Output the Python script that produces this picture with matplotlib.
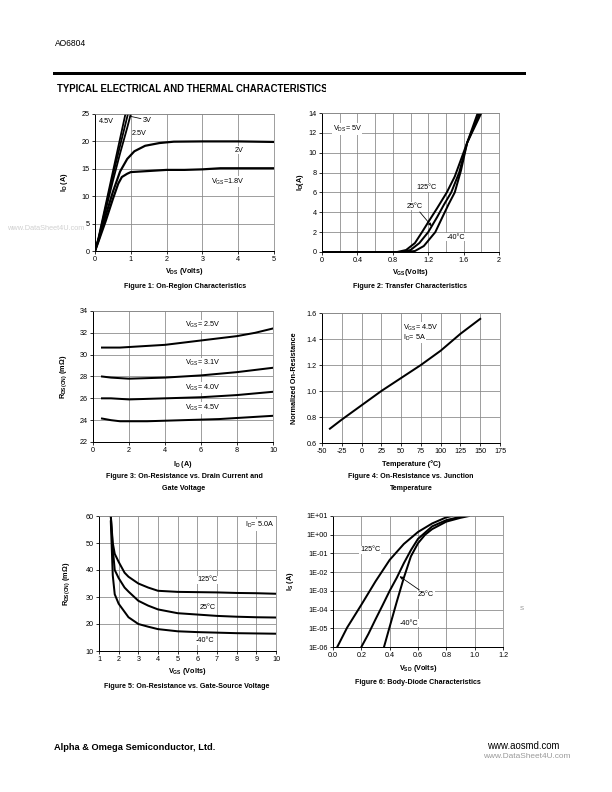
import numpy as np
import matplotlib.pyplot as plt
from matplotlib.ticker import MultipleLocator, FixedLocator, FixedFormatter
from matplotlib.transforms import Bbox

plt.rcParams['font.family'] = ['Liberation Sans', 'DejaVu Sans']
plt.rcParams['mathtext.fontset'] = 'custom'
plt.rcParams['mathtext.rm'] = 'Liberation Sans'
plt.rcParams['mathtext.it'] = 'Liberation Sans:italic'
plt.rcParams['mathtext.bf'] = 'Liberation Sans:bold'
plt.rcParams['mathtext.default'] = 'regular'
plt.rcParams['axes.unicode_minus'] = False

# Figure 1: on-region characteristics
vds_45 = [0, 0.1, 0.3, 0.5, 0.7, 0.85]
id_45 = [0, 2.5, 8.5, 14.5, 20.5, 25]
vds_3 = [0, 0.1, 0.3, 0.5, 0.7, 0.92]
id_3 = [0, 2.3, 8.0, 13.8, 19.2, 25]
vds_25 = [0, 0.1, 0.3, 0.5, 0.7, 0.9, 1.0]
id_25 = [0, 2.2, 7.5, 12.8, 17.8, 22.5, 25]
vds_2 = [0, 0.1, 0.3, 0.5, 0.7, 0.9, 1.1, 1.4, 1.8, 2.2, 3, 4, 5]
id_2 = [0, 2.0, 6.5, 10.8, 14.5, 16.8, 18.2, 19.2, 19.7, 19.95, 20, 20, 19.9]
vds_18 = [0, 0.1, 0.3, 0.5, 0.65, 0.75, 0.9, 1.0, 1.5, 2, 2.5, 3, 3.5, 4, 5]
id_18 = [0, 1.8, 5.5, 9.5, 12.3, 13.5, 14.1, 14.4, 14.6, 14.8, 14.8, 14.9, 15.1, 15.1, 15.1]

# Figure 2: transfer characteristics
vgs_125 = [0, 0.85, 0.95, 1.05, 1.13, 1.2, 1.3, 1.41, 1.5, 1.64, 1.8]
id_125 = [0, 0, 0.2, 0.9, 2.0, 3.0, 4.4, 6.0, 7.6, 11.0, 14]
vgs_25 = [0, 0.9, 1.0, 1.1, 1.2, 1.3, 1.38, 1.46, 1.55, 1.64, 1.78]
id_25c = [0, 0, 0.2, 0.9, 2.0, 3.5, 4.8, 6.0, 8.0, 11.0, 14]
vgs_m40 = [0, 0.95, 1.05, 1.15, 1.28, 1.36, 1.43, 1.5, 1.57, 1.64, 1.76]
id_m40 = [0, 0, 0.1, 0.6, 2.0, 3.5, 4.8, 6.0, 8.2, 11.0, 14]

# Figure 3: Rds(on) vs drain current
id_f3 = [0.5, 1, 1.5, 2, 3, 4, 5, 6, 7, 8, 9, 10]
r_25v = [30.65, 30.65, 30.65, 30.7, 30.8, 30.9, 31.1, 31.3, 31.5, 31.7, 32.0, 32.4]
r_31v = [28.0, 27.9, 27.85, 27.8, 27.85, 27.9, 28.0, 28.1, 28.25, 28.4, 28.6, 28.8]
r_40v = [26.0, 26.0, 25.95, 25.9, 25.95, 26.0, 26.05, 26.1, 26.2, 26.3, 26.45, 26.6]
r_45v = [24.15, 24.0, 23.9, 23.9, 23.9, 23.95, 24.0, 24.05, 24.1, 24.2, 24.3, 24.4]

# Figure 4: normalized on-resistance vs temperature
temp_f4 = [-40, -25, 0, 25, 50, 75, 100, 125, 150]
rnorm_f4 = [0.71, 0.78, 0.89, 1.0, 1.1, 1.2, 1.31, 1.44, 1.555]

# Figure 5: Rds(on) vs gate-source voltage
vgs_f5 = [1.6, 1.7, 1.8, 2.0, 2.3, 2.5, 3, 3.5, 4, 5, 6, 7, 8, 9, 10]
r5_125 = [60, 50, 46, 43, 39, 37.5, 35, 33.5, 32.3, 31.9, 31.8, 31.7, 31.5, 31.4, 31.2]
r5_25 = [60, 48, 40, 37, 33.5, 32, 28.6, 26.8, 25.4, 24, 23.5, 23, 22.7, 22.5, 22.4]
r5_m40 = [58, 38, 31, 27.5, 24.5, 22.5, 20, 19, 18.1, 17.3, 17, 16.8, 16.6, 16.5, 16.4]

# Figure 6: body-diode characteristics
vsd_125 = [0.03, 0.1, 0.2, 0.3, 0.4, 0.5, 0.6, 0.7, 0.8, 0.84]
is_125 = [1e-6, 1.1e-5, 1.8e-4, 3.2e-3, 4.5e-2, 0.32, 1.4, 4.0, 8.5, 10]
vsd_25 = [0.2, 0.25, 0.3, 0.35, 0.4, 0.45, 0.5, 0.55, 0.6, 0.7, 0.8, 0.92]
is_25 = [1e-6, 5e-6, 3e-5, 1.7e-4, 1e-3, 5e-3, 3e-2, 0.15, 0.6, 2.8, 6, 10]
vsd_m40 = [0.36, 0.4, 0.45, 0.5, 0.55, 0.6, 0.65, 0.7, 0.8, 0.9, 0.96]
is_m40 = [1e-6, 1.2e-5, 2.6e-4, 5e-3, 7e-2, 0.35, 1.0, 2.0, 5, 8, 10]

GRID = '#888888'
WHITE = dict(fc='white', ec='none', pad=0.6)
FS = 7.2   # text inside the plots, tick labels, axis labels
CAP = 7.1  # figure captions

fig = plt.figure(figsize=(8.5, 11), dpi=72)


def px_axes(l, t, r, b):
    return fig.add_axes([l / 612, 1 - b / 792, (r - l) / 612, (b - t) / 792])


def style(ax):
    ax.grid(True, which='both', color=GRID, lw=0.8)
    ax.set_axisbelow(True)
    for s in ['top', 'right']:
        ax.spines[s].set_color(GRID)
        ax.spines[s].set_linewidth(0.8)
    for s in ['left', 'bottom']:
        ax.spines[s].set_linewidth(1.0)
    ax.tick_params(which='major', direction='out', length=3, width=0.8, labelsize=FS, pad=2)
    ax.tick_params(which='minor', length=0)


def caption(x, y, s):
    fig.text(x / 612, 1 - y / 792, s, ha='center', va='center', fontsize=CAP, fontweight='bold')


# ---- header / footer
fig.text(55 / 612, 1 - 43 / 792, 'AO6804', fontsize=8.5, va='center')
fig.add_artist(plt.Line2D([54 / 612, 524 / 612], [1 - 72.5 / 792] * 2, color='black', lw=3))
title = fig.text(57 / 612, 1 - 89 / 792, 'TYPICAL ELECTRICAL AND THERMAL CHARACTERISTICS',
                 fontsize=9.6, fontweight='bold', va='center')
title.set_clip_box(Bbox([[0, 0], [326, 792]]))
title.set_clip_on(True)
fig.text(54 / 612, 1 - 747 / 792, 'Alpha & Omega Semiconductor, Ltd.', fontsize=9.3,
         fontweight='bold', va='center')
fig.text(559 / 612, 1 - 746 / 792, 'www.aosmd.com', fontsize=9.6, ha='right', va='center')
fig.text(570 / 612, 1 - 757 / 792, 'www.DataSheet4U.com', fontsize=8.3, ha='right',
         va='center', color='#9a9a9a')
fig.text(84 / 612, 1 - 228 / 792, 'www.DataSheet4U.com', fontsize=7.4, ha='right',
         va='center', color='#d0d0d0')
fig.text(522 / 612, 1 - 609 / 792, 'S', fontsize=6, ha='center', va='center', color='#8a8a8a')

# ---- Figure 1
ax1 = px_axes(95, 114, 274, 251)
ax1.plot(vds_45, id_45, color='black', lw=1.8)
ax1.plot(vds_3, id_3, color='black', lw=1.8)
ax1.plot(vds_25, id_25, color='black', lw=1.8)
ax1.plot(vds_2, id_2, color='black', lw=2.2)
ax1.plot(vds_18, id_18, color='black', lw=2.2)
ax1.set_xlim(0, 5)
ax1.set_ylim(0, 25)
ax1.xaxis.set_major_locator(MultipleLocator(1))
ax1.yaxis.set_major_locator(MultipleLocator(5))
style(ax1)
ax1.text(0.12, 23.6, '4.5V', fontsize=FS, va='center')
ax1.annotate('3V', xy=(0.97, 24.6), xytext=(1.34, 23.9), fontsize=FS, va='center',
             arrowprops=dict(arrowstyle='-', lw=0.8, color='black', shrinkA=0, shrinkB=0))
ax1.text(1.03, 21.5, '2.5V', fontsize=FS, va='center')
ax1.text(3.9, 18.4, '2V', fontsize=FS, va='center', bbox=WHITE)
ax1.text(3.25, 12.65, 'V$_{GS}$=1.8V', fontsize=FS, va='center', bbox=WHITE)
ax1.set_xlabel(r'$\mathbf{V_{DS}}$ (Volts)', fontsize=FS, fontweight='bold', labelpad=3)
ax1.set_ylabel(r'$\mathbf{I_D}$ (A)', fontsize=FS, fontweight='bold')
ax1.yaxis.set_label_coords(-0.14, 0.5)
caption(185, 287, 'Figure 1: On-Region Characteristics')

# ---- Figure 2
ax2 = px_axes(322, 113, 499, 252)
ax2.plot(vgs_125, id_125, color='black', lw=2)
ax2.plot(vgs_25, id_25c, color='black', lw=2)
ax2.plot(vgs_m40, id_m40, color='black', lw=2)
ax2.set_xlim(0, 2)
ax2.set_ylim(0, 14)
ax2.xaxis.set_major_locator(FixedLocator([0, 0.4, 0.8, 1.2, 1.6, 2]))
ax2.xaxis.set_major_formatter(FixedFormatter(['0', '0.4', '0.8', '1.2', '1.6', '2']))
ax2.xaxis.set_minor_locator(MultipleLocator(0.2))
ax2.yaxis.set_major_locator(MultipleLocator(2))
style(ax2)
ax2.text(0.12, 12.4, 'V$_{DS}$= 5V', fontsize=FS, va='center', bbox=WHITE)
ax2.text(1.07, 6.5, '125°C', fontsize=FS, va='center', bbox=WHITE)
ax2.annotate('25°C', xy=(1.24, 2.6), xytext=(0.96, 4.6), fontsize=FS, va='center',
             bbox=WHITE,
             arrowprops=dict(arrowstyle='-|>', lw=0.8, color='black', mutation_scale=6,
                             shrinkA=2, shrinkB=0))
ax2.text(1.41, 1.5, '-40°C', fontsize=FS, va='center', bbox=WHITE)
ax2.set_xlabel(r'$\mathbf{V_{GS}}$(Volts)', fontsize=FS, fontweight='bold', labelpad=3)
ax2.set_ylabel(r'$\mathbf{I_D}$(A)', fontsize=FS, fontweight='bold')
ax2.yaxis.set_label_coords(-0.09, 0.5)
caption(410, 286, 'Figure 2: Transfer Characteristics')

# ---- Figure 3
ax3 = px_axes(93, 311, 273, 442)
for r in [r_25v, r_31v, r_40v, r_45v]:
    ax3.plot(id_f3, r, color='black', lw=2)
ax3.set_xlim(0, 10)
ax3.set_ylim(22, 34)
ax3.xaxis.set_major_locator(MultipleLocator(2))
ax3.yaxis.set_major_locator(MultipleLocator(2))
style(ax3)
ax3.text(5.1, 32.7, 'V$_{GS}$= 2.5V', fontsize=FS, va='center', bbox=WHITE)
ax3.text(5.1, 29.2, 'V$_{GS}$= 3.1V', fontsize=FS, va='center', bbox=WHITE)
ax3.text(5.1, 27.0, 'V$_{GS}$= 4.0V', fontsize=FS, va='center', bbox=WHITE)
ax3.text(5.1, 25.1, 'V$_{GS}$= 4.5V', fontsize=FS, va='center', bbox=WHITE)
ax3.set_xlabel(r'$\mathbf{I_D}$ (A)', fontsize=FS, fontweight='bold', labelpad=5)
ax3.set_ylabel(r'$\mathbf{R_{DS(ON)}}$ (mΩ)', fontsize=FS, fontweight='bold')
ax3.yaxis.set_label_coords(-0.135, 0.5)
caption(184, 477, 'Figure 3: On-Resistance vs. Drain Current and')
caption(184, 489, 'Gate Voltage')

# ---- Figure 4
ax4 = px_axes(322, 313, 500, 443)
ax4.plot(temp_f4, rnorm_f4, color='black', lw=2)
ax4.set_xlim(-50, 175)
ax4.set_ylim(0.6, 1.6)
ax4.xaxis.set_major_locator(MultipleLocator(25))
ax4.yaxis.set_major_locator(FixedLocator([0.6, 0.8, 1.0, 1.2, 1.4, 1.6]))
ax4.yaxis.set_major_formatter(FixedFormatter(['0.6', '0.8', '1.0', '1.2', '1.4', '1.6']))
style(ax4)
ax4.text(52, 1.485, 'V$_{GS}$= 4.5V', fontsize=FS, va='center', bbox=WHITE)
ax4.text(52, 1.41, 'I$_D$= 5A', fontsize=FS, va='center', bbox=WHITE)
ax4.set_xlabel('Temperature (°C)', fontsize=FS, fontweight='bold', labelpad=5)
ax4.set_ylabel('Normalized On-Resistance', fontsize=FS, fontweight='bold')
ax4.yaxis.set_label_coords(-0.135, 0.5)
caption(411, 477, 'Figure 4: On-Resistance vs. Junction')
caption(411, 489, 'Temperature')

# ---- Figure 5
ax5 = px_axes(99, 516, 276, 651)
ax5.plot(vgs_f5, r5_125, color='black', lw=2)
ax5.plot(vgs_f5, r5_25, color='black', lw=2)
ax5.plot(vgs_f5, r5_m40, color='black', lw=2)
ax5.set_xlim(1, 10)
ax5.set_ylim(10, 60)
ax5.xaxis.set_major_locator(MultipleLocator(1))
ax5.yaxis.set_major_locator(MultipleLocator(10))
style(ax5)
ax5.text(8.4, 56.7, 'I$_D$= 5.0A', fontsize=FS, va='center', bbox=WHITE)
ax5.text(6.0, 36.3, '125°C', fontsize=FS, va='center', bbox=WHITE)
ax5.text(6.1, 26.2, '25°C', fontsize=FS, va='center', bbox=WHITE)
ax5.text(5.9, 13.8, '-40°C', fontsize=FS, va='center', bbox=WHITE)
ax5.set_xlabel(r'$\mathbf{V_{GS}}$ (Volts)', fontsize=FS, fontweight='bold', labelpad=3)
ax5.set_ylabel(r'$\mathbf{R_{DS(ON)}}$ (mΩ)', fontsize=FS, fontweight='bold')
ax5.yaxis.set_label_coords(-0.15, 0.5)
caption(187, 687, 'Figure 5: On-Resistance vs. Gate-Source Voltage')

# ---- Figure 6
ax6 = px_axes(333, 516, 503, 647)
ax6.semilogy(vsd_125, is_125, color='black', lw=2)
ax6.semilogy(vsd_25, is_25, color='black', lw=2)
ax6.semilogy(vsd_m40, is_m40, color='black', lw=2)
ax6.set_xlim(0, 1.2)
ax6.set_ylim(1e-6, 1e1)
ax6.xaxis.set_major_locator(FixedLocator([0, 0.2, 0.4, 0.6, 0.8, 1.0, 1.2]))
ax6.xaxis.set_major_formatter(FixedFormatter(['0.0', '0.2', '0.4', '0.6', '0.8', '1.0', '1.2']))
ydec = [1e-6, 1e-5, 1e-4, 1e-3, 1e-2, 1e-1, 1e0, 1e1]
ax6.yaxis.set_major_locator(FixedLocator(ydec))
ax6.yaxis.set_major_formatter(FixedFormatter(['1E-06', '1E-05', '1E-04', '1E-03', '1E-02',
                                              '1E-01', '1E+00', '1E+01']))
ax6.yaxis.set_minor_locator(FixedLocator([]))
style(ax6)
ax6.text(0.19, 0.16, '125°C', fontsize=FS, va='center', bbox=WHITE)
ax6.annotate('25°C', xy=(0.47, 6e-3), xytext=(0.6, 6.3e-4), fontsize=FS, va='center',
             bbox=WHITE,
             arrowprops=dict(arrowstyle='-|>', lw=0.8, color='black', mutation_scale=6,
                             shrinkA=1, shrinkB=0))
ax6.text(0.47, 1.9e-5, '-40°C', fontsize=FS, va='center', bbox=WHITE)
ax6.set_xlabel(r'$\mathbf{V_{SD}}$ (Volts)', fontsize=FS, fontweight='bold', labelpad=4)
ax6.set_ylabel(r'$\mathbf{I_S}$ (A)', fontsize=FS, fontweight='bold')
ax6.yaxis.set_label_coords(-0.22, 0.5)
caption(418, 683, 'Figure 6: Body-Diode Characteristics')

fig.savefig('out.png', dpi=72)
